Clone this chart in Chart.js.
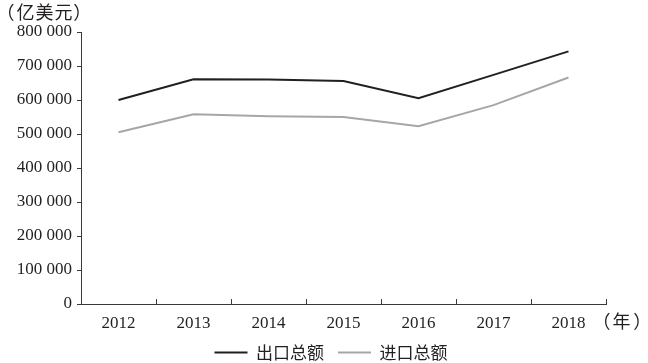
<!DOCTYPE html>
<html>
<head>
<meta charset="utf-8">
<script src="https://cdn.jsdelivr.net/npm/chart.js@4.4.1/dist/chart.umd.min.js"></script>
<style>
  html, body { margin: 0; padding: 0; background: #fff; }
  #wrap { width: 648px; height: 363px; }
</style>
</head>
<body>
<div id="wrap"><canvas id="tradeChart"></canvas></div>
<script>
// ---- data ----
const years = ['2012', '2013', '2014', '2015', '2016', '2017', '2018'];
const exportTotal = [600000, 661000, 660000, 656000, 605000, 674000, 743000];
const importTotal = [505000, 558000, 552000, 550000, 523000, 585000, 666000];
const yTickLabels = ['0', '100 000', '200 000', '300 000', '400 000', '500 000', '600 000', '700 000', '800 000'];

const FONT = "'Liberation Serif', 'Noto Sans CJK SC', serif";
const CJK = "'Noto Sans CJK SC', sans-serif";
const INK = '#231f20';
const GREY = '#a6a6a6';
const AXIS = '#3a3a3a';

// unit captions: (亿美元) top-left, (年) after the x axis
// parens drawn apart so they keep the loose spacing of the original
const unitLabels = {
    id: 'unitLabels',
    afterLayout(chart) {
        // nudge the legend to sit where the original had it
        chart.legend.left += 28;
        chart.legend.right += 28;
    },
    afterDraw(chart) {
        const { ctx, chartArea, scales: { x } } = chart;
        ctx.save();
        ctx.font = `18px ${CJK}`;
        ctx.fillStyle = INK;
        ctx.textBaseline = 'middle';
        ctx.fillText('（', -3.5, 12);
        ctx.letterSpacing = '1px';
        ctx.fillText('亿美元', 16.5, 12);
        ctx.letterSpacing = '0px';
        ctx.fillText('）', 73.3, 12);

        const yy = x.top + 17.5;
        ctx.fillText('（', chartArea.right - 13.5, yy);
        ctx.fillText('年', chartArea.right + 6.5, yy);
        ctx.fillText('）', chartArea.right + 27.3, yy);
        ctx.restore();
    }
};

new Chart(document.getElementById('tradeChart'), {
    type: 'line',
    data: {
        labels: years,
        datasets: [
            { label: '出口总额', data: exportTotal, borderColor: INK, backgroundColor: INK, borderWidth: 2, pointRadius: 0, tension: 0 },
            { label: '进口总额', data: importTotal, borderColor: GREY, backgroundColor: GREY, borderWidth: 2, pointRadius: 0, tension: 0 }
        ]
    },
    options: {
        responsive: true,
        maintainAspectRatio: false,
        animation: false,
        devicePixelRatio: 1,
        layout: { padding: { top: 32, right: 42, bottom: -8, left: 0 } },
        plugins: {
            tooltip: { enabled: false },
            legend: {
                position: 'bottom',
                labels: {
                    color: INK,
                    font: { family: CJK, size: 17 },
                    boxWidth: 33,
                    boxHeight: 2,
                    padding: 14,
                    generateLabels: (chart) => Chart.defaults.plugins.legend.labels.generateLabels(chart)
                        .map(l => ({ ...l, lineWidth: 0 }))
                }
            }
        },
        scales: {
            x: {
                offset: true,
                grid: { offset: true, drawOnChartArea: false, color: AXIS, tickLength: -5 },
                border: { color: AXIS, width: 1 },
                ticks: { color: INK, font: { family: FONT, size: 17 }, padding: 14, maxRotation: 0 },
                afterFit: (s) => { s.height = 26; }
            },
            y: {
                min: 0,
                max: 800000,
                grid: { drawOnChartArea: false, color: AXIS, tickLength: 4 },
                border: { color: AXIS, width: 1 },
                ticks: {
                    stepSize: 100000,
                    color: INK,
                    font: { family: FONT, size: 17 },
                    padding: 5,
                    callback: (v, i) => yTickLabels[i]
                },
                afterFit: (s) => { s.width = 81; }
            }
        }
    },
    plugins: [unitLabels]
});
</script>
</body>
</html>
